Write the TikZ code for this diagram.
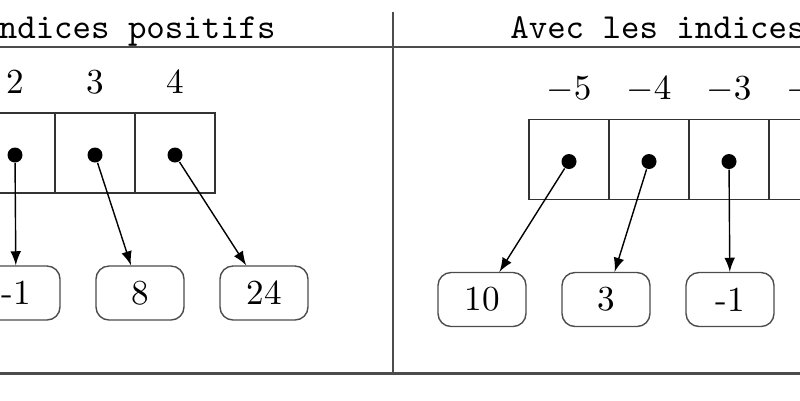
\documentclass[tikz,border=0pt]{standalone}
\usepackage{tikz}
\usetikzlibrary{
    arrows,
    positioning
}
\tikzset{
    cellbox/.style={draw=black!80, minimum size=0.8cm, inner sep=0},
    ptr/.style={circle, fill, inner sep=0, minimum size=0.15cm},
    valbox/.style={draw=black!70, rounded corners=0.13cm, minimum width=0.88cm, minimum height=0.54cm, inner sep=0},
    idx/.style={anchor=base},
    rule/.style={draw=black!70, line width=0.8pt}
}

\begin{document}
\begin{tikzpicture}
                        \useasboundingbox (0, 0) rectangle (8, -4);
                        \clip (0, 0) rectangle (8, -4);
                        \draw[rule]
                        (0, -0.47) -- (8, -0.47)
                        (3.93, -0.12) -- (3.93, -3.735)
                        (0, -3.735) -- (8, -3.735);
                        \node[anchor=base] (headpos) at (0.45, -0.385) {\ttfamily Avec les indices positifs};
                        \node[anchor=base] (headneg) at (7.41, -0.385) {\ttfamily Avec les indices négatifs};
                        \begin{scope}[shift={(-1.45, 0)}]
                            \node[cellbox] (pc2) at (1.6, -1.53) {};
                            \node[cellbox] (pc3) at (2.4, -1.53) {};
                            \node[cellbox] (pc4) at (3.2, -1.53) {};
                            \node[idx] (pi2) at (1.6, -0.93) {$2$};
                            \node[idx] (pi3) at (2.4, -0.93) {$3$};
                            \node[idx] (pi4) at (3.2, -0.93) {$4$};
                            \node[ptr] (pd2) at (1.6, -1.55) {};
                            \node[ptr] (pd3) at (2.4, -1.55) {};
                            \node[ptr] (pd4) at (3.2, -1.55) {};
                            \node[valbox] (pv2) at (1.61, -2.93) {-1};
                            \node[valbox] (pv3) at (2.85, -2.93) {8};
                            \node[valbox] (pv4) at (4.09, -2.93) {24};
                            \draw[-latex] (pd2) -- (pv2);
                            \draw[-latex] (pd3) -- (pv3);
                            \draw[-latex] (pd4) -- (pv4);
                        \end{scope}
                        \begin{scope}[shift={(5.69, -0.065)}]
                            \node[cellbox] (nc5) at (0, -1.53) {};
                            \node[cellbox] (nc4) at (0.8, -1.53) {};
                            \node[cellbox] (nc3) at (1.6, -1.53) {};
                            \node[cellbox] (nc2) at (2.4, -1.53) {};
                            \node[idx] (ni5) at (0, -0.93) {$-5$};
                            \node[idx] (ni4) at (0.8, -0.93) {$-4$};
                            \node[idx] (ni3) at (1.6, -0.93) {$-3$};
                            \node[idx] (ni2) at (2.4, -0.93) {$-2$};
                            \node[ptr] (nd5) at (0, -1.55) {};
                            \node[ptr] (nd4) at (0.8, -1.55) {};
                            \node[ptr] (nd3) at (1.6, -1.55) {};
                            \node[ptr] (nd2) at (2.4, -1.55) {};
                            \node[valbox] (nv5) at (-0.87, -2.93) {10};
                            \node[valbox] (nv4) at (0.37, -2.93) {3};
                            \node[valbox] (nv3) at (1.61, -2.93) {-1};
                            \draw[-latex] (nd5) -- (nv5);
                            \draw[-latex] (nd4) -- (nv4);
                            \draw[-latex] (nd3) -- (nv3);
                        \end{scope}
                    \end{tikzpicture}
\end{document}
